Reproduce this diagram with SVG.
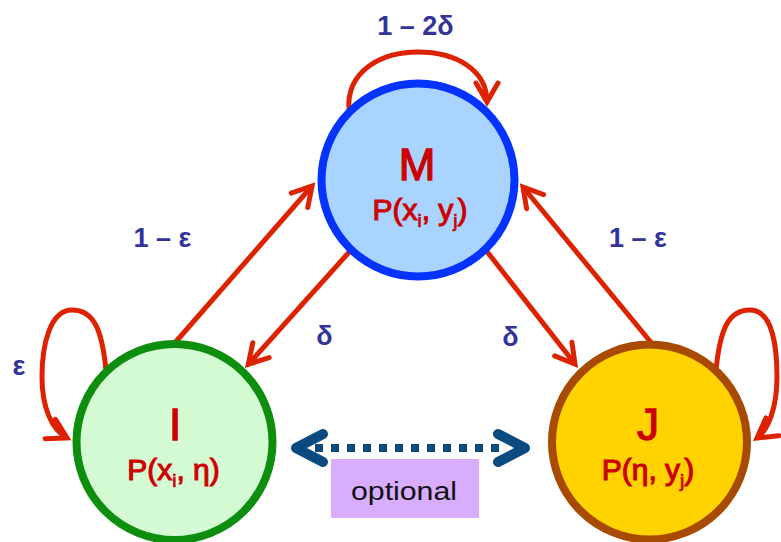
<svg xmlns="http://www.w3.org/2000/svg" width="781" height="542" viewBox="0 0 781 542">
<style>
.edge{fill:none;stroke:#DD2200;stroke-width:5;stroke-linecap:butt;marker-end:url(#ah)}
.node-lbl{font-family:"Liberation Sans",Arial,sans-serif;fill:#CC0000;stroke:#CC0000;text-anchor:middle}
.big{font-size:44px;stroke-width:1.3}
.prob{font-size:30px;stroke-width:1.1}
.sub{font-size:19px;stroke-width:0.7}
.elbl{font-family:"Liberation Sans",Arial,sans-serif;font-weight:bold;font-size:27px;fill:#333399;text-anchor:middle}
.opt{font-family:"Liberation Sans",Arial,sans-serif;font-size:26px;fill:#111111;text-anchor:middle}
</style>
<defs>
<marker id="ah" markerUnits="userSpaceOnUse" markerWidth="60" markerHeight="60" viewBox="-30 -30 60 60" refX="0" refY="0" orient="auto" overflow="visible">
<path d="M-19,-11 L0,0 L-19,11" fill="none" stroke="#DD2200" stroke-width="5" stroke-linejoin="miter" stroke-linecap="round"/>
</marker>
</defs>
<rect x="0" y="0" width="781" height="542" fill="#FFFFFF"/>
<g id="connectors">
<path class="edge" d="M173,345 L312,186"/>
<path class="edge" d="M351,250 L248.3,364.3"/>
<path class="edge" d="M485,249 L575,364"/>
<path class="edge" d="M651.5,343 L523,187"/>
<path class="edge" d="M349,110 C346,72 380,52 418,52 C456,52 487,70 487,102"/>
<path class="edge" d="M106,370 C102,330 94,310 72,310 C50,310 42,345 42,377 C42,408 52,430 67,438"/>
<path class="edge" d="M716,370 C720,330 728,310 750,310 C772,310 777,345 777,377 C777,408 768,430 757,438"/>
<g id="optional-link">
<path d="M315,448 L500,448" fill="none" stroke="#0A4A7E" stroke-width="8" stroke-dasharray="8 8"/>
<path d="M323,434 L296,448 L323,462" fill="none" stroke="#0A4A7E" stroke-width="10" stroke-linecap="round" stroke-linejoin="round"/>
<path d="M498,434 L525,448 L498,462" fill="none" stroke="#0A4A7E" stroke-width="10" stroke-linecap="round" stroke-linejoin="round"/>
</g>
</g>
<g id="edge-labels">
<text class="elbl" x="415.5" y="35">1 – 2δ</text>
<text class="elbl" x="162.5" y="247">1 – ε</text>
<text class="elbl" x="638" y="247">1 – ε</text>
<text class="elbl" x="324.5" y="345">δ</text>
<text class="elbl" x="510.5" y="346">δ</text>
<text class="elbl" x="19" y="375">ε</text>
</g>
<g id="node-M">
<circle cx="418" cy="180" r="96.5" fill="#A9D4FF" stroke="#0432FF" stroke-width="8"/>
<text class="node-lbl big" x="417" y="180">M</text>
<text class="node-lbl prob" x="420" y="220">P(x<tspan class="sub" dy="7">i</tspan><tspan dy="-7">, y</tspan><tspan class="sub" dy="7">j</tspan><tspan dy="-7">)</tspan></text>
</g>
<g id="node-I">
<circle cx="174.5" cy="442" r="98" fill="#D4FAD4" stroke="#0E8E0E" stroke-width="8"/>
<text class="node-lbl big" x="175" y="440">I</text>
<text class="node-lbl prob" x="173.5" y="480">P(x<tspan class="sub" dy="7">i</tspan><tspan dy="-7">, η)</tspan></text>
</g>
<g id="node-J">
<circle cx="649.5" cy="442" r="97.5" fill="#FFD200" stroke="#A84A02" stroke-width="8"/>
<text class="node-lbl big" x="648" y="440">J</text>
<text class="node-lbl prob" x="648" y="480">P(η, y<tspan class="sub" dy="7">j</tspan><tspan dy="-7">)</tspan></text>
</g>
<g id="node-optional">
<rect x="331" y="459" width="148" height="59" fill="#D8ACFF"/>
<text class="opt" x="404" y="500" textLength="106" lengthAdjust="spacingAndGlyphs">optional</text>
</g>
</svg>
